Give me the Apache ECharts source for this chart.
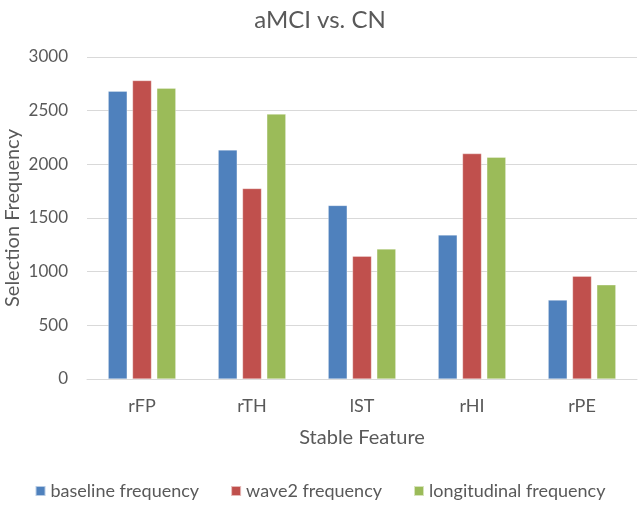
<!DOCTYPE html>
<html>
<head>
<meta charset="utf-8">
<script src="https://cdn.jsdelivr.net/npm/echarts@6/dist/echarts.min.js"></script>
<style>html,body{margin:0;padding:0;background:#fff}#c{width:640px;height:505px}</style>
</head>
<body>
<div id="c"></div>
<script>
const categories = ['rFP', 'rTH', 'lST', 'rHI', 'rPE'];
const baseline = [2682, 2134, 1617, 1342, 735];
const wave2 = [2781, 1775, 1144, 2100, 958];
const longitudinal = [2710, 2468, 1212, 2066, 877];
const seriesNames = ['baseline frequency', 'wave2 frequency', 'longitudinal frequency'];
const colors = ['#4F81BD', '#C0504D', '#9BBB59'];

const FONT = 'Lato';
const chart = echarts.init(document.getElementById('c'));
const mk = (name, data, color) => ({
  name, type: 'bar', data, barWidth: 19, barGap: '28%',
  itemStyle: { color, borderColor: 'rgba(255,255,255,0.6)', borderWidth: 0.5 }
});
chart.setOption({
  animation: false,
  textStyle: { fontFamily: FONT },
  title: {
    text: 'aMCI vs. CN', left: 'center', top: 3,
    textStyle: { fontFamily: FONT, fontSize: 24, fontWeight: 'normal', color: '#595959' }
  },
  legend: {
    bottom: 0, left: 'center', itemWidth: 10, itemHeight: 10, itemGap: 31, icon: 'rect',
    textStyle: { fontFamily: FONT, fontSize: 18, color: '#595959' }
  },
  grid: { left: 87, right: 3, top: 57, bottom: 126, containLabel: false, outerBoundsMode: 'none' },
  xAxis: {
    type: 'category', data: categories,
    axisLine: { lineStyle: { color: '#D9D9D9' } },
    axisTick: { show: false },
    axisLabel: { fontFamily: FONT, fontSize: 18, color: '#595959', margin: 18 },
    name: 'Stable Feature', nameLocation: 'middle', nameGap: 49, nameMoveOverlap: false,
    nameTextStyle: { fontFamily: FONT, fontSize: 20, color: '#595959' }
  },
  yAxis: {
    type: 'value', min: 0, max: 3000, interval: 500,
    axisLine: { show: false }, axisTick: { show: false },
    splitLine: { lineStyle: { color: '#D9D9D9' } },
    axisLabel: { fontFamily: FONT, fontSize: 17, color: '#595959', margin: 19, formatter: v => String(v) },
    name: 'Selection Frequency', nameLocation: 'middle', nameGap: 64, nameMoveOverlap: false,
    nameTextStyle: { fontFamily: FONT, fontSize: 20, color: '#595959' }
  },
  series: [
    mk(seriesNames[0], baseline, colors[0]),
    mk(seriesNames[1], wave2, colors[1]),
    mk(seriesNames[2], longitudinal, colors[2])
  ]
});
</script>
</body>
</html>
